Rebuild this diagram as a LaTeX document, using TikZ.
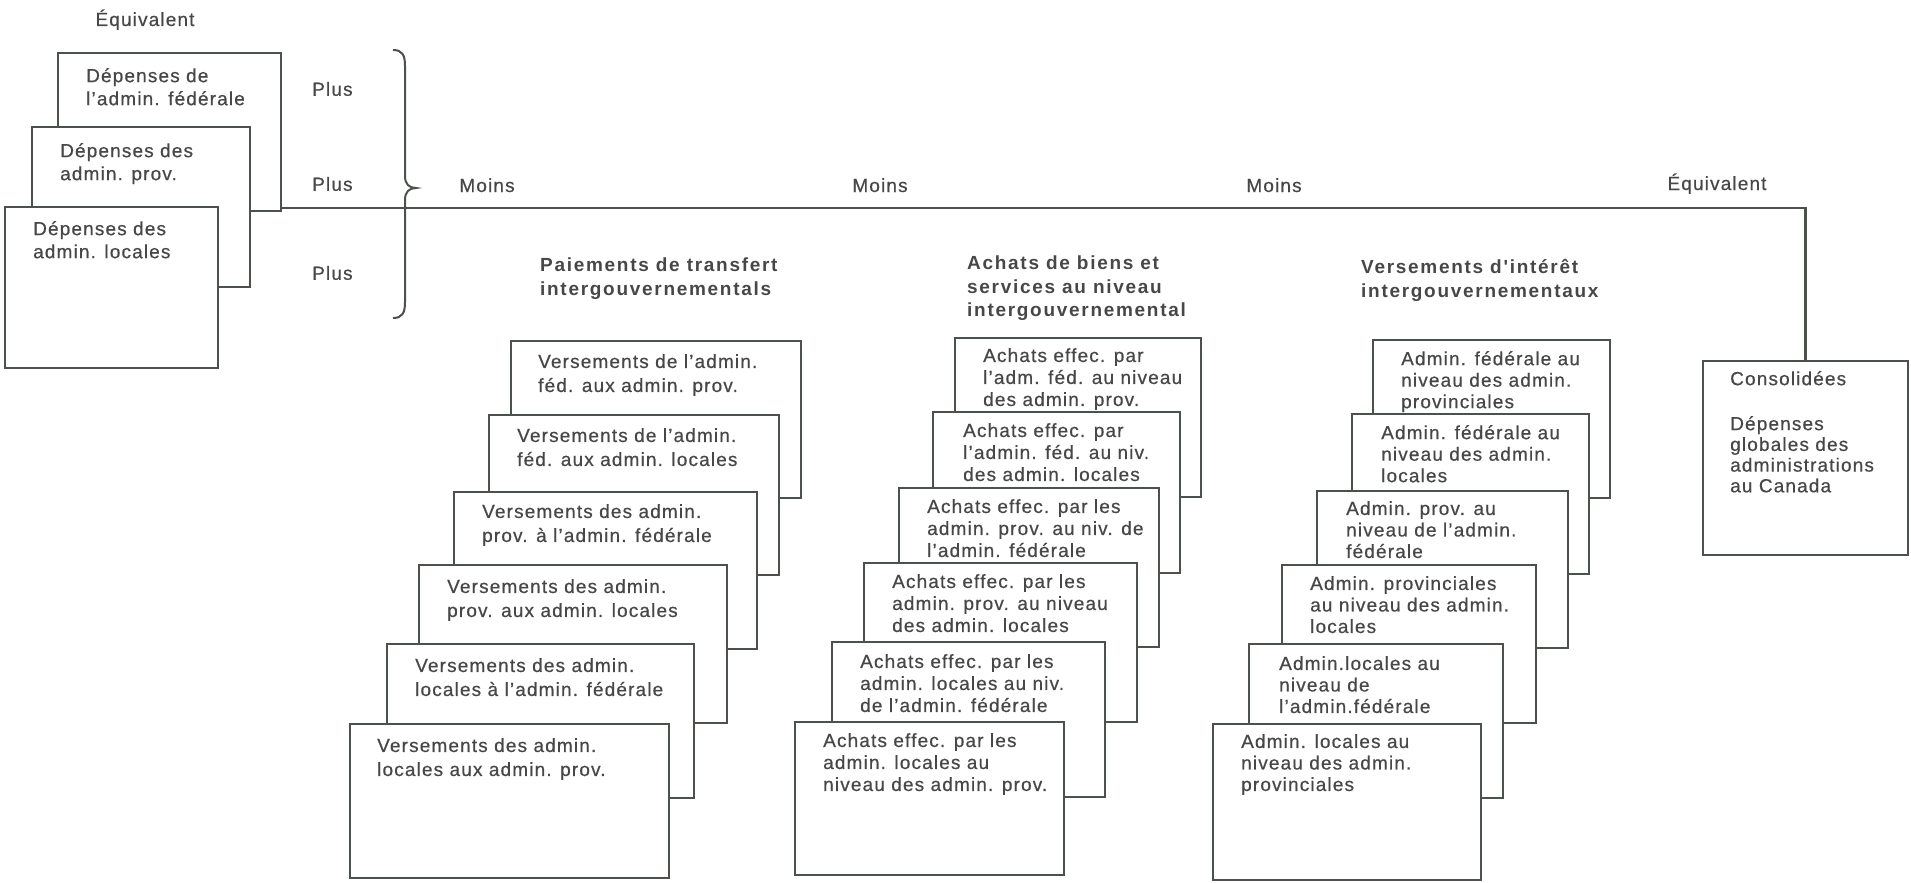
\documentclass[tikz,border=0pt]{standalone}
\usepackage{fontspec}
\setmainfont{Liberation Sans}[LetterSpace=6,FakeBold=0.5]
\newfontfamily\titlefont{Liberation Sans}[LetterSpace=9]
\definecolor{ink}{HTML}{4B514B}
\definecolor{txtc}{HTML}{474747}
\newcommand\mybox[5]{\node[box,anchor=north west,minimum width={(#4-#2)*1pt},minimum height={(#5-#3)*1pt}] (#1) at (#2,#3) {};}
\begin{document}
\begin{tikzpicture}[x=1pt,y=-1pt,
  box/.style={draw=ink,line width=2.2pt,fill=white,inner sep=0pt,outer sep=0pt},
  conn/.style={draw=ink,line width=2.2pt},
  txt/.style={text=txtc,inner sep=0pt,align=left,anchor=north west,font=\fontsize{19}{23}\selectfont},
  lbl/.style={text=txtc,inner sep=0pt,anchor=base,font=\fontsize{19}{23}\selectfont},
  ttl/.style={text=txtc,inner sep=0pt,align=left,anchor=north west,font=\titlefont\bfseries\fontsize{19}{24}\selectfont}]
\useasboundingbox (0,0) rectangle (1911,883);

% main line
\coordinate (lstart) at (281,208);
\mybox{cons}{1703}{361}{1908}{555}
\draw[conn] (lstart) -- (lstart -| cons.north) -- (cons.north);

% left stack
\mybox{fed}{58}{53}{281}{211}
\mybox{prov}{32}{127}{250}{287}
\mybox{loc}{5}{207}{218}{368}
\node[txt] (fedt) at (86,68) {Dépenses de\\l'admin. fédérale};
\node[txt] (provt) at (60,143) {Dépenses des\\admin. prov.};
\node[txt] (loct) at (33,221) {Dépenses des\\admin. locales};

\node[lbl] (eq1) at (145,26) {Équivalent};
\node[lbl,anchor=west] (p1) at (312,89) {Plus};
\node[lbl,anchor=west] (p2) at (312,184) {Plus};
\node[lbl,anchor=west] (p3) at (312,273) {Plus};

% brace
\draw[conn,line width=2pt] (393,50) .. controls (403,50) and (405,56) .. (405,66) -- (405,176)
  .. controls (405,184) and (409,188) .. (416,188)
  .. controls (409,188) and (405,192) .. (405,200) -- (405,302)
  .. controls (405,312) and (403,318) .. (393,318);

\node[lbl] (m1) at (487,192) {Moins};
\node[lbl] (m2) at (880,192) {Moins};
\node[lbl] (m3) at (1274,192) {Moins};
\node[lbl] (eq2) at (1717,190) {Équivalent};

% titles
\node[ttl] (tt1) at (540,258) {Paiements de transfert\\intergouvernementals};
\node[ttl,font=\titlefont\bfseries\fontsize{19}{23.5}\selectfont] (tt2) at (967,256) {Achats de biens et\\services au niveau\\intergouvernemental};
\node[ttl] (tt3) at (1361,259) {Versements d'intérêt\\intergouvernementaux};

% transfer stack
\begin{scope}[txt/.append style={font=\fontsize{19}{24}\selectfont}]
\mybox{t1}{511}{341}{801}{498}
\node[txt] (t1t) at (538,354) {Versements de l'admin.\\féd. aux admin. prov.};
\mybox{t2}{489}{415}{779}{575}
\node[txt] (t2t) at (517,428) {Versements de l'admin.\\féd. aux admin. locales};
\mybox{t3}{454}{492}{757}{649}
\node[txt] (t3t) at (482,504) {Versements des admin.\\prov. à l'admin. fédérale};
\mybox{t4}{419}{565}{727}{723}
\node[txt] (t4t) at (447,579) {Versements des admin.\\prov. aux admin. locales};
\mybox{t5}{387}{644}{694}{798}
\node[txt] (t5t) at (415,658) {Versements des admin.\\locales à l'admin. fédérale};
\mybox{t6}{350}{724}{669}{878}
\node[txt] (t6t) at (377,738) {Versements des admin.\\locales aux admin. prov.};
\end{scope}

% achats stack
\begin{scope}[txt/.append style={font=\fontsize{19}{22}\selectfont}]
\mybox{a1}{955}{338}{1201}{497}
\node[txt] (a1t) at (983,348) {Achats effec. par\\l'adm. féd. au niveau\\des admin. prov.};
\mybox{a2}{933}{412}{1180}{573}
\node[txt] (a2t) at (963,423) {Achats effec. par\\l'admin. féd. au niv.\\des admin. locales};
\mybox{a3}{899}{488}{1159}{647}
\node[txt] (a3t) at (927,499) {Achats effec. par les\\admin. prov. au niv. de\\l'admin. fédérale};
\mybox{a4}{864}{563}{1137}{722}
\node[txt] (a4t) at (892,574) {Achats effec. par les\\admin. prov. au niveau\\des admin. locales};
\mybox{a5}{832}{642}{1105}{797}
\node[txt] (a5t) at (860,654) {Achats effec. par les\\admin. locales au niv.\\de l'admin. fédérale};
\mybox{a6}{795}{722}{1064}{875}
\node[txt] (a6t) at (823,733) {Achats effec. par les\\admin. locales au\\niveau des admin. prov.};
\end{scope}

% interet stack
\begin{scope}[txt/.append style={font=\fontsize{19}{21.5}\selectfont}]
\mybox{i1}{1373}{340}{1610}{498}
\node[txt] (i1t) at (1401,351) {Admin. fédérale au\\niveau des admin.\\provinciales};
\mybox{i2}{1352}{414}{1589}{574}
\node[txt] (i2t) at (1381,425) {Admin. fédérale au\\niveau des admin.\\locales};
\mybox{i3}{1317}{491}{1568}{648}
\node[txt] (i3t) at (1346,501) {Admin. prov. au\\niveau de l'admin.\\fédérale};
\mybox{i4}{1282}{565}{1536}{723}
\node[txt] (i4t) at (1310,576) {Admin. provinciales\\au niveau des admin.\\locales};
\mybox{i5}{1249}{644}{1503}{798}
\node[txt] (i5t) at (1279,656) {Admin.locales au\\niveau de\\l'admin.fédérale};
\mybox{i6}{1213}{724}{1481}{880}
\node[txt] (i6t) at (1241,734) {Admin. locales au\\niveau des admin.\\provinciales};
\end{scope}

% consolidated
\node[txt] (ct1) at (1730,371) {Consolidées};
\node[txt,font=\fontsize{19}{20.7}\selectfont] (ct2) at (1730,416) {Dépenses\\globales des\\administrations\\au Canada};
\end{tikzpicture}
\end{document}
